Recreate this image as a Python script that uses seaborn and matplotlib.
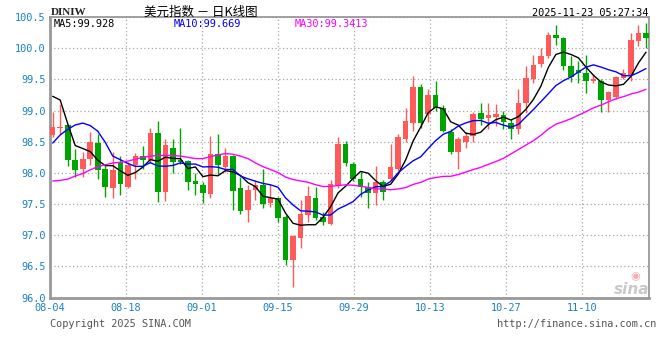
import numpy as np
import pandas as pd
import matplotlib
matplotlib.use("Agg")
import matplotlib.pyplot as plt
import seaborn as sns

# ---------------- data ----------------
opens = [98.61, 98.72, 98.77, 98.21, 98.06, 98.22, 98.48, 98.06, 97.75, 98.18,
         97.77, 98.12, 98.27, 98.21, 98.64, 97.69, 98.40, 98.21, 98.19, 97.87,
         97.81, 97.66, 98.31, 98.10, 98.27, 97.76, 97.40, 97.72, 97.80, 97.51,
         97.60, 97.30, 96.61, 96.96, 97.32, 97.60, 97.30, 97.18, 97.80, 98.46,
         98.14, 97.91, 97.78, 97.68, 97.86, 97.91, 98.07, 98.54, 98.80, 99.38,
         98.94, 99.25, 99.04, 98.65, 98.34, 98.49, 98.59, 98.96, 98.88, 98.90,
         98.93, 98.80, 98.70, 99.12, 99.50, 99.75, 99.88, 100.22, 100.17, 99.72,
         99.65, 99.61, 99.47, 99.48, 99.17, 99.22, 99.53, 99.57, 100.12, 100.25]
closes = [98.74, 98.74, 98.20, 98.05, 98.23, 98.49, 98.05, 97.77, 98.04, 97.82,
          98.13, 98.27, 98.21, 98.64, 97.69, 98.45, 98.18, 98.18, 97.85, 97.82,
          97.67, 98.31, 98.12, 98.27, 97.71, 97.39, 97.73, 97.80, 97.50, 97.59,
          97.28, 96.61, 96.98, 97.34, 97.63, 97.28, 97.21, 97.82, 98.46, 98.16,
          97.91, 97.77, 97.68, 97.86, 97.69, 98.09, 98.58, 98.83, 99.38, 98.80,
          99.25, 99.04, 98.68, 98.33, 98.54, 98.60, 98.94, 98.86, 98.93, 98.94,
          98.81, 98.71, 99.12, 99.52, 99.73, 99.88, 100.22, 100.16, 99.71, 99.54,
          99.61, 99.48, 99.50, 99.17, 99.30, 99.54, 99.60, 100.14, 100.25, 100.16]
highs = [98.98, 99.10, 98.79, 98.39, 98.33, 98.66, 98.62, 98.15, 98.33, 98.27,
         98.18, 98.32, 98.43, 98.72, 98.84, 98.55, 98.55, 98.72, 98.21, 98.00,
         97.85, 98.59, 98.62, 98.40, 98.28, 97.94, 97.80, 97.89, 98.07, 97.83,
         97.62, 97.32, 97.00, 97.57, 97.79, 97.78, 97.37, 97.89, 98.58, 98.51,
         98.18, 98.02, 97.86, 98.11, 97.88, 98.47, 98.63, 99.04, 99.55, 99.42,
         99.35, 99.48, 99.09, 98.70, 98.57, 98.65, 98.98, 99.13, 99.13, 99.11,
         99.00, 98.86, 99.35, 99.72, 99.89, 100.00, 100.27, 100.37, 100.18, 99.87,
         99.79, 99.89, 99.59, 99.51, 99.32, 99.56, 99.67, 100.25, 100.37, 100.41]
lows = [98.58, 98.62, 98.11, 97.94, 97.93, 98.13, 97.90, 97.62, 97.60, 97.65,
        97.75, 97.91, 98.07, 98.16, 97.53, 97.55, 98.00, 98.14, 97.72, 97.64,
        97.52, 97.60, 97.99, 98.02, 97.40, 97.34, 97.21, 97.56, 97.43, 97.45,
        97.22, 96.52, 96.17, 96.79, 97.22, 97.24, 97.16, 97.16, 97.76, 98.11,
        97.87, 97.61, 97.44, 97.48, 97.56, 97.88, 98.03, 98.50, 98.68, 98.72,
        98.81, 99.00, 98.65, 98.30, 98.06, 98.40, 98.49, 98.77, 98.70, 98.76,
        98.70, 98.55, 98.62, 98.96, 99.45, 99.70, 99.85, 100.05, 99.66, 99.46,
        99.45, 99.29, 99.45, 98.98, 98.98, 99.18, 99.50, 99.48, 100.03, 100.00]

# moving-average values at the left edge (their windows start before the chart)
ma5_lead = [99.23, 99.17, 98.79, 98.44]
ma10_lead = [98.48, 98.61, 98.70, 98.77, 98.80, 98.76, 98.67, 98.49, 98.27]
ma30_lead = [97.87, 97.88, 97.90, 97.95, 97.99, 98.05, 98.10, 98.13, 98.16, 98.17,
             98.19, 98.22, 98.25, 98.27, 98.28, 98.28, 98.28, 98.27, 98.25, 98.23,
             98.23, 98.26, 98.29, 98.31, 98.30, 98.27, 98.23, 98.16, 98.10]

tick_labels = ['08-04', '08-18', '09-01', '09-15', '09-29', '10-13', '10-27', '11-10']
ytick_values = [96.0, 96.5, 97.0, 97.5, 98.0, 98.5, 99.0, 99.5, 100.0, 100.5]
ma_labels = ['MA5:99.928', 'MA10:99.669', 'MA30:99.3413']

# ---------------- build table ----------------
dates = pd.bdate_range('2025-08-04', periods=len(closes))
df = pd.DataFrame({'date': dates, 'open': opens, 'high': highs,
                   'low': lows, 'close': closes})
df['idx'] = np.arange(len(df))
cs = df['close']
df['ma5'] = list(ma5_lead) + list(cs.rolling(5).mean().iloc[len(ma5_lead):])
df['ma10'] = list(ma10_lead) + list(cs.rolling(10).mean().iloc[len(ma10_lead):])
df['ma30'] = list(ma30_lead) + list(cs.rolling(30).mean().iloc[len(ma30_lead):])

RED = '#ff5a5a'
GREEN = '#00a400'
BLUE_TXT = '#1b80c8'

sns.set_theme(style="white")
plt.rcParams['font.family'] = ['DejaVu Sans Mono', 'Noto Sans CJK SC']

W, H = 660, 360
fig = plt.figure(figsize=(6.6, 3.6), dpi=100)
fig.patch.set_facecolor('white')
ax = fig.add_axes([50 / W, 1 - 297.5 / H, 599 / W, (297.5 - 17.2) / H])
ax.set_facecolor('white')

# candles
up = df['close'] >= df['open']
colors = np.where(up, RED, GREEN)
ax.vlines(df['idx'], df['low'], df['high'], colors=colors, linewidth=1.0, zorder=3)
body_bottom = np.minimum(df['open'], df['close'])
body_h = np.maximum(np.abs(df['close'] - df['open']), 0.02)
ax.bar(df['idx'], body_h, bottom=body_bottom, width=0.74, color=colors,
       linewidth=0, zorder=4)

# moving averages via seaborn
sns.lineplot(data=df, x='idx', y='ma5', color='black', linewidth=1.0, ax=ax, zorder=5)
sns.lineplot(data=df, x='idx', y='ma10', color='#0000ff', linewidth=1.0, ax=ax, zorder=5)
sns.lineplot(data=df, x='idx', y='ma30', color='#ff00ff', linewidth=1.0, ax=ax, zorder=5)

# axes
ax.set_xlim(-0.36, 79.4)
ax.set_ylim(96.0, 100.5)
lab_idx = [int(np.where(df['date'].dt.strftime('%m-%d') == t)[0][0]) for t in tick_labels]
xt = [i * 1.012 - 0.36 for i in lab_idx]
ax.set_xticks(xt)
ax.set_xticklabels(tick_labels)
ax.set_yticks(ytick_values)
ax.set_yticklabels([f'{v:.1f}' for v in ytick_values])
ax.set_xlabel('')
ax.set_ylabel('')
ax.tick_params(axis='both', length=0, labelsize=7.4, labelcolor=BLUE_TXT)
ax.tick_params(axis='y', pad=3)
ax.tick_params(axis='x', pad=4)
ax.grid(True, color='#a8a8a8', linestyle=(0, (1, 2)), linewidth=0.9, zorder=0)
ax.set_axisbelow(True)
for s in ax.spines.values():
    s.set_color('#999999')
    s.set_linewidth(1.3)
    s.set_visible(True)
ax.spines['left'].set_linewidth(2.0)
ax.spines['bottom'].set_linewidth(2.0)

# texts
def ftext(x, y, s, **kw):
    fig.text(x / W, 1 - y / H, s, **kw)

ftext(201, 12, '美元指数 － 日K线图', ha='center', va='center', fontsize=9,
      family=['Noto Sans CJK SC', 'DejaVu Sans'], color='black')
ftext(51, 12.5, 'DINIW', ha='left', va='center', fontsize=8,
      family=['Liberation Serif'], fontweight='bold', color='#222222')
ftext(648, 12.5, '2025-11-23 05:27:34', ha='right', va='center', fontsize=7.4,
      color='black')
ftext(54, 24, ma_labels[0], ha='left', va='center', fontsize=7.4, color='black')
ftext(174, 24, ma_labels[1], ha='left', va='center', fontsize=7.4, color='#0000ff')
ftext(295, 24, ma_labels[2], ha='left', va='center', fontsize=7.4, color='#ff00ff')
ftext(50, 324, 'Copyright 2025 SINA.COM', ha='left', va='center', fontsize=7.4,
      color='#555555')
ftext(656, 324, 'http://finance.sina.com.cn', ha='right', va='center', fontsize=7.4,
      color='#555555')
ftext(632, 289, 'sina', ha='center', va='center', fontsize=11, style='italic',
      fontweight='bold', family=['DejaVu Sans'], color='#c9c9c9')
ftext(635, 276, '◉', ha='center', va='center', fontsize=8,
      family=['DejaVu Sans'], color='#f4b0b0')

fig.savefig('out.png', dpi=100, facecolor='white')
